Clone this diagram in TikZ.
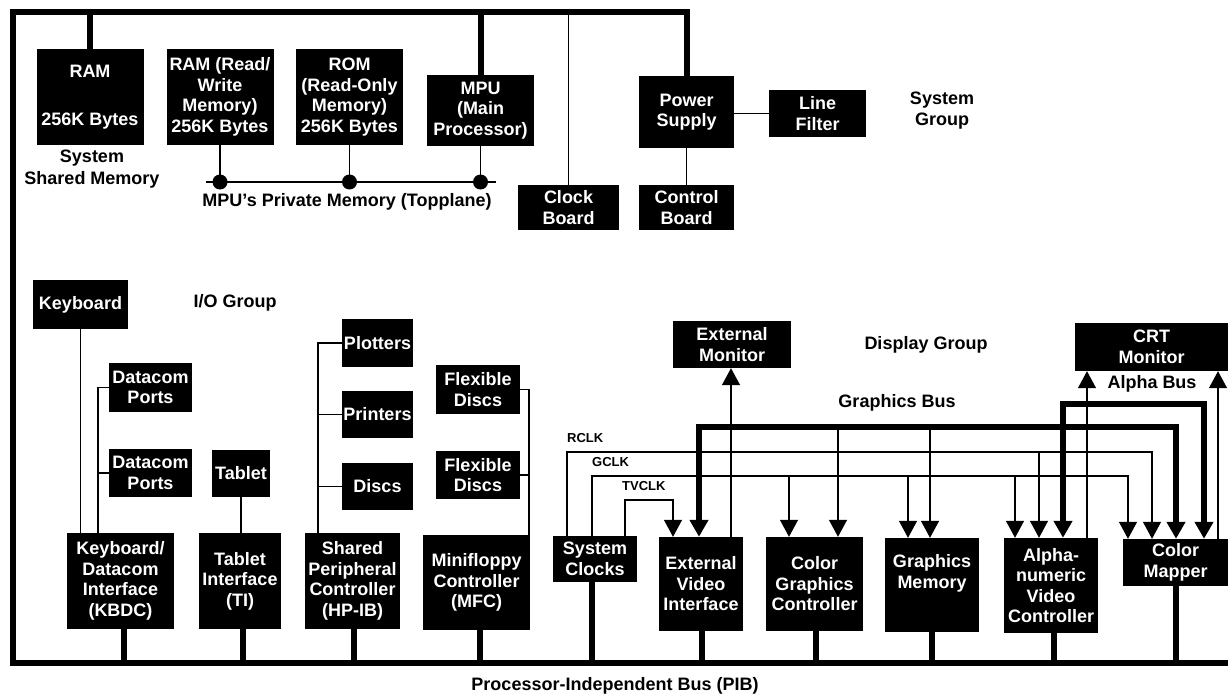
\documentclass[tikz,border=0pt]{standalone}
\usepackage{fontspec}
\setmainfont{Liberation Sans}
\usetikzlibrary{arrows.meta}
\begin{document}
\begin{tikzpicture}[x=1pt,y=-1pt,
  box/.style={fill=black,text=white,align=center,inner sep=0pt,font=\bfseries\fontsize{18}{20.5}\selectfont},
  lbl/.style={align=center,inner sep=0pt,font=\bfseries\fontsize{18}{21.5}\selectfont},
  clk/.style={anchor=west,inner sep=0pt,font=\bfseries\fontsize{13}{15}\selectfont},
  thinln/.style={line width=1.3pt},
  bus/.style={line width=6pt,line join=miter},
  arr/.style={-{Triangle[width=18pt,length=17pt]}},
  arrs/.style={{Triangle[width=18pt,length=17pt]}-{Triangle[width=18pt,length=17pt]}}
]
\useasboundingbox (0,0) rectangle (1228,698);
\fill[white] (0,0) rectangle (1228,698);

% ---------- System group ----------
\node[box,minimum width=107pt,minimum height=96pt] (ram) at (90,97) {RAM\\[27pt]256K Bytes};
\node[box,minimum width=107pt,minimum height=96pt] (ramrw) at (220,97) {RAM (Read/\\Write\\Memory)\\256K Bytes};
\node[box,minimum width=107pt,minimum height=96pt] (rom) at (349.5,97) {ROM\\(Read-Only\\Memory)\\256K Bytes};
\node[box,minimum width=107pt,minimum height=71pt] (mpu) at (480.5,110.5) {MPU\\(Main\\Processor)};
\node[box,minimum width=101pt,minimum height=45pt] (clkb) at (568.5,207.5) {Clock\\Board};
\node[box,minimum width=95pt,minimum height=72pt] (ps) at (686.5,112) {Power\\Supply};
\node[box,minimum width=97pt,minimum height=47pt] (lf) at (817.5,113.5) {Line\\Filter};
\node[box,minimum width=95pt,minimum height=45pt] (ctl) at (686.5,207.5) {Control\\Board};

\node[lbl] (ssm) at (92,169) {System\\Shared Memory};
\node[lbl] (pml) at (347,202) {MPU's Private Memory (Topplane)};
\node[lbl] (sgl) at (942,110.5) {System\\Group};

% ---------- I/O group ----------
\node[box,minimum width=95pt,minimum height=49pt] (kb) at (80.5,304.5) {Keyboard};
\node[box,minimum width=83pt,minimum height=49pt] (dc1) at (150.5,387.5) {Datacom\\Ports};
\node[box,minimum width=83pt,minimum height=48pt] (dc2) at (150.5,473) {Datacom\\Ports};
\node[box,minimum width=107pt,minimum height=96pt] (kbdc) at (120.5,581) {Keyboard/\\Datacom\\Interface\\(KBDC)};
\node[box,minimum width=58pt,minimum height=47pt] (tab) at (241,473.5) {Tablet};
\node[box,minimum width=82pt,minimum height=96pt] (ti) at (240,581) {Tablet\\Interface\\(TI)};
\node[box,minimum width=71pt,minimum height=48pt] (plot) at (377.5,343) {Plotters};
\node[box,minimum width=71pt,minimum height=47pt] (prn) at (377.5,414.5) {Printers};
\node[box,minimum width=71pt,minimum height=47pt] (disc) at (377.5,486.5) {Discs};
\node[box,minimum width=95pt,minimum height=96pt] (spc) at (352.5,581) {Shared\\Peripheral\\Controller\\(HP-IB)};
\node[box,minimum width=84pt,minimum height=49pt] (fd1) at (478,389.5) {Flexible\\Discs};
\node[box,minimum width=84pt,minimum height=48pt] (fd2) at (478,475) {Flexible\\Discs};
\node[box,minimum width=107pt,minimum height=95pt] (mfc) at (476.5,582.5) {Minifloppy\\Controller\\(MFC)};

\node[lbl] (iol) at (235,303) {I/O Group};

% ---------- Display group ----------
\node[box,minimum width=118pt,minimum height=47pt] (em) at (732,344.5) {External\\Monitor};
\node[box,minimum width=153pt,minimum height=48pt] (crt) at (1151.5,347) {CRT\\Monitor};
\node[box,minimum width=84pt,minimum height=46pt] (sc) at (595,559) {System\\Clocks};
\node[box,minimum width=84pt,minimum height=94pt] (evi) at (701,584) {External\\Video\\Interface};
\node[box,minimum width=97pt,minimum height=94pt] (cgc) at (814.5,584) {Color\\Graphics\\Controller};
\node[box,minimum width=94pt,minimum height=94pt] (gm) at (932,585) {Graphics\\Memory\\\strut};
\node[box,minimum width=94pt,minimum height=95pt] (avc) at (1051,585.5) {Alpha-\\numeric\\Video\\Controller};
\node[box,minimum width=105pt,minimum height=47pt] (cm) at (1175.5,562.5) {Color\\Mapper};

\node[lbl] (dgl) at (926,345) {Display Group};
\node[lbl] (gbl) at (897,403) {Graphics Bus};
\node[lbl] (abl) at (1152,384) {Alpha Bus};
\node[clk] (rclkl) at (567,438) {RCLK};
\node[clk] (gclkl) at (592,462) {GCLK};
\node[clk] (tvclkl) at (622,486) {TVCLK};
\node[lbl] (pibl) at (615,686) {Processor-Independent Bus (PIB)};

% ---------- frame / buses ----------
\coordinate (tl) at (13,12);
\coordinate (bl) at (13,663);
\coordinate (br) at (1228,663);
\draw[bus] (ps.north) |- (tl) -- (bl) -- (br);
\draw[bus] (ram.north) -- (ram.north |- tl);
\draw[bus] (mpu.north) -- (mpu.north |- tl);
\draw[thinln] (clkb.north) -- (clkb.north |- tl);
\draw[thinln] (lf.west) -- (lf.west -| ps.east);
\draw[thinln] (ps.south) -- (ctl.north);

% private memory bus
\coordinate (pmL) at (206,182);
\coordinate (pmR) at (496,182);
\draw[thinln] (pmL) -- (pmR);
\draw[thinln] (ramrw.south) -- (ramrw.south |- pmL);
\draw[thinln] (rom.south) -- (rom.south |- pmL);
\draw[thinln] (mpu.south) -- (mpu.south |- pmL);
\fill (ramrw.south |- pmL) circle (7.5);
\fill (rom.south |- pmL) circle (7.5);
\fill (mpu.south |- pmL) circle (7.5);

% PIB drops
\draw[bus] ([xshift=3.5pt]kbdc.south) -- ([xshift=3.5pt]kbdc.south |- br);
\draw[bus] ([xshift=3pt]ti.south) -- ([xshift=3pt]ti.south |- br);
\draw[bus] ([xshift=1.5pt]spc.south) -- ([xshift=1.5pt]spc.south |- br);
\draw[bus] ([xshift=3.5pt]mfc.south) -- ([xshift=3.5pt]mfc.south |- br);
\draw[bus] ([xshift=-3pt]sc.south) -- ([xshift=-3pt]sc.south |- br);
\draw[bus] ([xshift=1pt]evi.south) -- ([xshift=1pt]evi.south |- br);
\draw[bus] ([xshift=1.5pt]cgc.south) -- ([xshift=1.5pt]cgc.south |- br);
\draw[bus] (gm.south) -- (gm.south |- br);
\draw[bus] ([xshift=3pt]avc.south) -- ([xshift=3pt]avc.south |- br);
\draw[bus] (cm.south) -- (cm.south |- br);

% I/O connections
\draw[thinln] (kb.south) -- (kb.south |- kbdc.north);
\coordinate (dcb) at (98,533);
\draw[thinln] (dc1.west) -| (dcb);
\draw[thinln] (dc2.west) -- (dc2.west -| dcb);
\draw[thinln] (tab.south) -- (tab.south |- ti.north);
\coordinate (hpb) at (318,533);
\draw[thinln] (plot.west) -| (hpb);
\draw[thinln] (prn.west) -- (prn.west -| hpb);
\draw[thinln] (disc.west) -- (disc.west -| hpb);
\coordinate (fdb) at (529,535);
\draw[thinln] (fd1.east) -| (fdb);
\draw[thinln] (fd2.east) -- (fd2.east -| fdb);

% clock lines
\coordinate (rA) at (567,452);
\coordinate (rB) at (1152,452);
\coordinate (gA) at (592,476);
\coordinate (gB) at (1128,476);
\coordinate (tA) at (625,500);
\coordinate (tB) at (673,500);
\draw[thinln,arr] (sc.north -| rA) |- (rB) -- (rB |- cm.north);
\draw[thinln,arr] (sc.north -| gA) |- (gB) -- (gB |- cm.north);
\draw[thinln,arr] (sc.north -| tA) |- (tB) -- (tB |- evi.north);
\coordinate (rAvc) at (1039,452);
\draw[thinln,arr] (rAvc) -- (rAvc |- avc.north);
\coordinate (gCgc) at (789,476);
\coordinate (gGm) at (908,476);
\coordinate (gAvc) at (1015,476);
\draw[thinln,arr] (gCgc) -- (gCgc |- cgc.north);
\draw[thinln,arr] (gGm) -- (gGm |- gm.north);
\draw[thinln,arr] (gAvc) -- (gAvc |- avc.north);

% graphics bus
\coordinate (gbA) at (699,427);
\coordinate (gbB) at (1176,427);
\draw[bus,arrs] (gbA |- evi.north) -- (gbA) -- (gbB) -- (gbB |- cm.north);
\coordinate (gbCgc) at (838,427);
\coordinate (gbGm) at (930,427);
\draw[thinln,arr] (gbCgc) -- (gbCgc |- cgc.north);
\draw[thinln,arr] (gbGm) -- (gbGm |- gm.north);

% alpha bus
\coordinate (abA) at (1063,404);
\coordinate (abB) at (1204,404);
\draw[bus,arrs] (abA |- avc.north) -- (abA) -- (abB) -- (abB |- cm.north);

% monitor feeds
\draw[thinln,arr] ([xshift=30pt]evi.north) -- ([xshift=30pt]evi.north |- em.south);
\draw[thinln,arr] ([xshift=36pt]avc.north) -- ([xshift=36pt]avc.north |- crt.south);
\draw[thinln,arr] ([xshift=42.5pt]cm.north) -- ([xshift=42.5pt]cm.north |- crt.south);
\end{tikzpicture}
\end{document}
